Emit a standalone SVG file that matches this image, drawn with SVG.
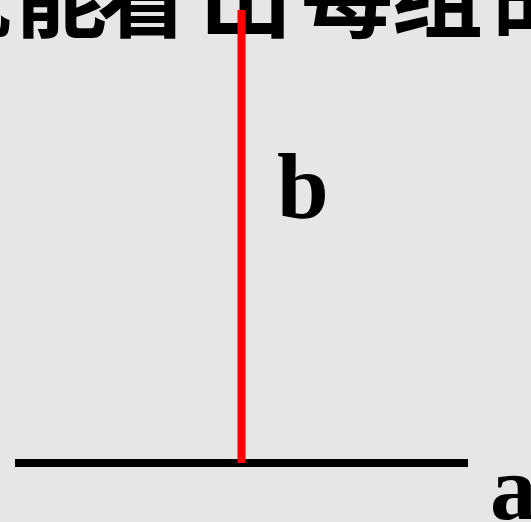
<svg xmlns="http://www.w3.org/2000/svg" width="531" height="522" viewBox="0 0 531 522">
<style>
.cjk{font-family:"Noto Sans CJK SC","Noto Sans CJK TC",sans-serif;font-weight:700;font-size:92px;fill:#000}
.lbl{font-family:"Liberation Serif",serif;font-weight:bold;font-size:93px;fill:#000}
</style>
<rect width="531" height="522" fill="#e6e6e6"/>
<g id="title"><text class="cjk" text-anchor="middle" x="-35 61 143 246 347 437 538" y="30">就能看出每组的</text></g>
<g id="connectors">
<line id="line-a" x1="15" y1="463" x2="468" y2="463" stroke="#000" stroke-width="8"/>
<line id="line-b" x1="241.5" y1="10" x2="241.5" y2="463" stroke="#ff0000" stroke-width="8"/>
</g>
<g id="label-b"><text class="lbl" x="277" y="218">b</text></g>
<g id="label-a"><text class="lbl" x="490" y="519">a</text></g>
</svg>
